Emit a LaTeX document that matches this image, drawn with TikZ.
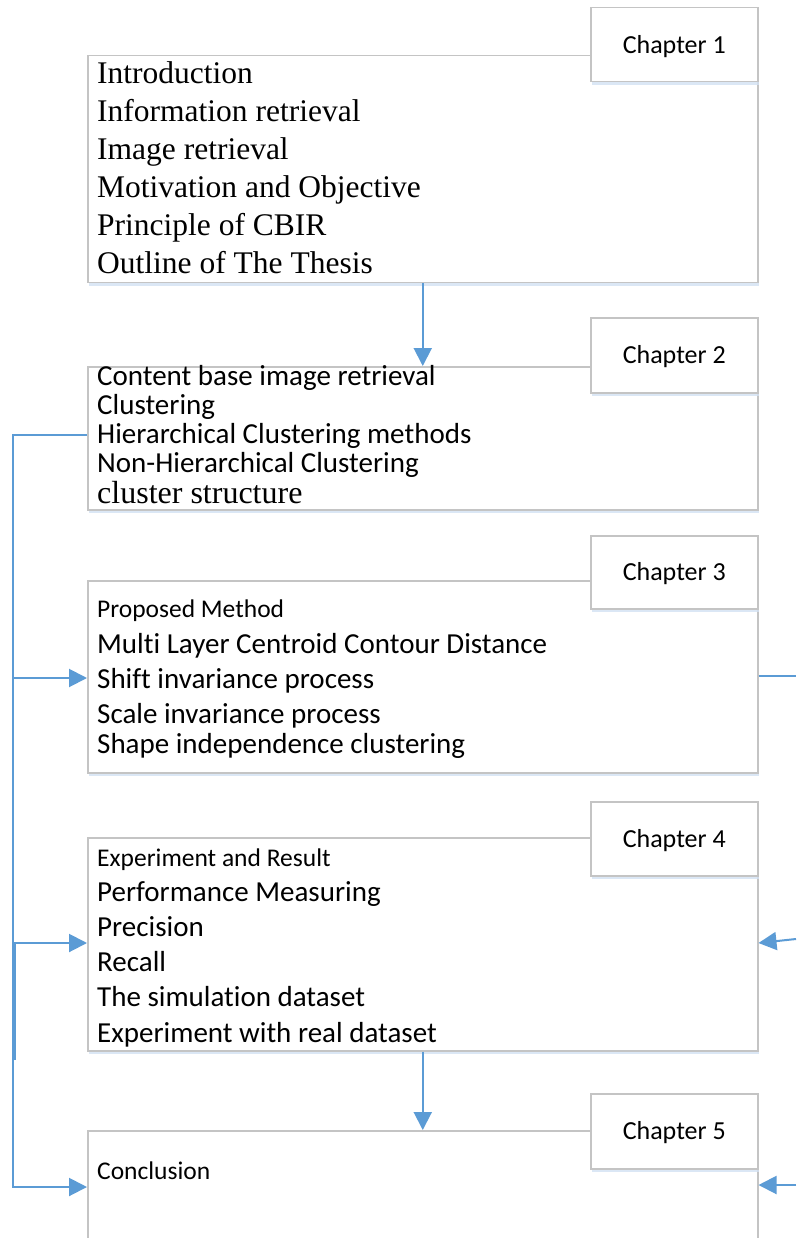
\documentclass[tikz,border=0pt]{standalone}
\usepackage{fontspec}
\setmainfont{Liberation Serif}
\newfontfamily\calibrifont{Carlito}[Ligatures=NoCommon]
\usetikzlibrary{arrows.meta,shadows}
\definecolor{bordergray}{HTML}{C4C4C4}
\definecolor{arrowblue}{HTML}{5B9BD5}
\definecolor{shadowblue}{HTML}{D3E1F3}
\begin{document}
\begin{tikzpicture}[x=1pt,y=-1pt,
  box/.style={draw=bordergray, line width=1.5pt, fill=white, anchor=north west, inner sep=0pt,
    drop shadow={shadow xshift=1pt, shadow yshift=-3.5pt, fill=shadowblue, opacity=0.8}},
  tabbox/.style={box, minimum width=167pt, text height=17pt, text depth=0pt,
    font=\calibrifont\fontsize{26}{30}\selectfont},
  serifline/.style={anchor=base west, inner sep=0pt, font=\fontsize{31.5}{36}\selectfont},
  sansline/.style={anchor=base west, inner sep=0pt, font=\calibrifont\fontsize{29}{33}\selectfont},
  smallline/.style={anchor=base west, inner sep=0pt, font=\calibrifont\fontsize{25.5}{30}\selectfont},
  link/.style={draw=arrowblue, line width=2pt},
  arrowlink/.style={link, -{Triangle[length=18pt,width=18pt]}},
]
\useasboundingbox (0,0) rectangle (796,1238);
\fill[white] (0,0) rectangle (796,1238);

% main boxes
\node[box, minimum width=670pt, minimum height=227pt] (b1) at (87,55) {};
\node[box, minimum width=670pt, minimum height=143pt] (b2) at (87,366) {};
\node[box, minimum width=670pt, minimum height=192pt] (b3) at (87,580) {};
\node[box, minimum width=670pt, minimum height=213pt] (b4) at (87,837) {};
\node[box, minimum width=670pt, minimum height=140pt] (b5) at (87,1130) {};

% chapter tabs
\node[tabbox, minimum height=74pt] (t1) at (590,7) {Chapter 1};
\node[tabbox, minimum height=75pt] (t2) at (590,317) {Chapter 2};
\node[tabbox, minimum height=73pt] (t3) at (590,535) {Chapter 3};
\node[tabbox, minimum height=74pt] (t4) at (590,801) {Chapter 4};
\node[tabbox, minimum height=75pt] (t5) at (590,1093) {Chapter 5};

% box 1 text
\node[serifline] (a1) at (97,84) {Introduction};
\node[serifline] (a2) at (97,122) {Information retrieval};
\node[serifline] (a3) at (97,160) {Image retrieval};
\node[serifline] (a4) at (97,198) {Motivation and Objective};
\node[serifline] (a5) at (97,236) {Principle of CBIR};
\node[serifline] (a6) at (97,274) {Outline of The Thesis};

% box 2 text
\node[sansline] (c1) at (97,385) {Content base image retrieval};
\node[sansline] (c2) at (97,414) {Clustering};
\node[sansline] (c3) at (97,443) {Hierarchical Clustering methods};
\node[sansline] (c4) at (97,472) {Non-Hierarchical Clustering};
\node[serifline, font=\fontsize{32}{36}\selectfont] (c5) at (97,503) {cluster structure};

% box 3 text
\node[smallline] (d1) at (97,617) {Proposed Method};
\node[sansline] (d2) at (97,653) {Multi Layer Centroid Contour Distance};
\node[sansline] (d3) at (97,688) {Shift invariance process};
\node[sansline] (d4) at (97,723) {Scale invariance process};
\node[sansline] (d5) at (97,753) {Shape independence clustering};

% box 4 text
\node[smallline] (e1) at (97,866) {Experiment and Result};
\node[sansline] (e2) at (97,901) {Performance Measuring};
\node[sansline] (e3) at (97,936) {Precision};
\node[sansline] (e4) at (97,971) {Recall};
\node[sansline] (e5) at (97,1006) {The simulation dataset};
\node[sansline] (e6) at (97,1042) {Experiment with real dataset};

% box 5 text
\node[smallline] (f1) at (97,1179) {Conclusion};

% vertical arrows between boxes
\draw[arrowlink] (b1.south) -- (b2.north);
\draw[arrowlink] (b4.south) -- (b5.north);

% left trunk
\coordinate (tk) at (13,435);
\coordinate (br4) at (15,1060);
\draw[arrowlink] (b2.west |- tk) -- (tk) |- (b5.west |- 0,1187);
\draw[arrowlink] (tk |- 0,678) -- (b3.west |- 0,678);
\draw[arrowlink] (br4) -- (br4 |- 0,943) -- (b4.west |- 0,943);

% right side
\coordinate (r3) at (796,676);
\coordinate (r4) at (796,939);
\coordinate (r5) at (796,1185);
\draw[link, line width=1.6pt] (b3.east |- r3) -- (r3);
\draw[arrowlink] (r4) -- (b4.east |- 0,943);
\draw[arrowlink] (r5) -- (b5.east |- r5);
\end{tikzpicture}
\end{document}
